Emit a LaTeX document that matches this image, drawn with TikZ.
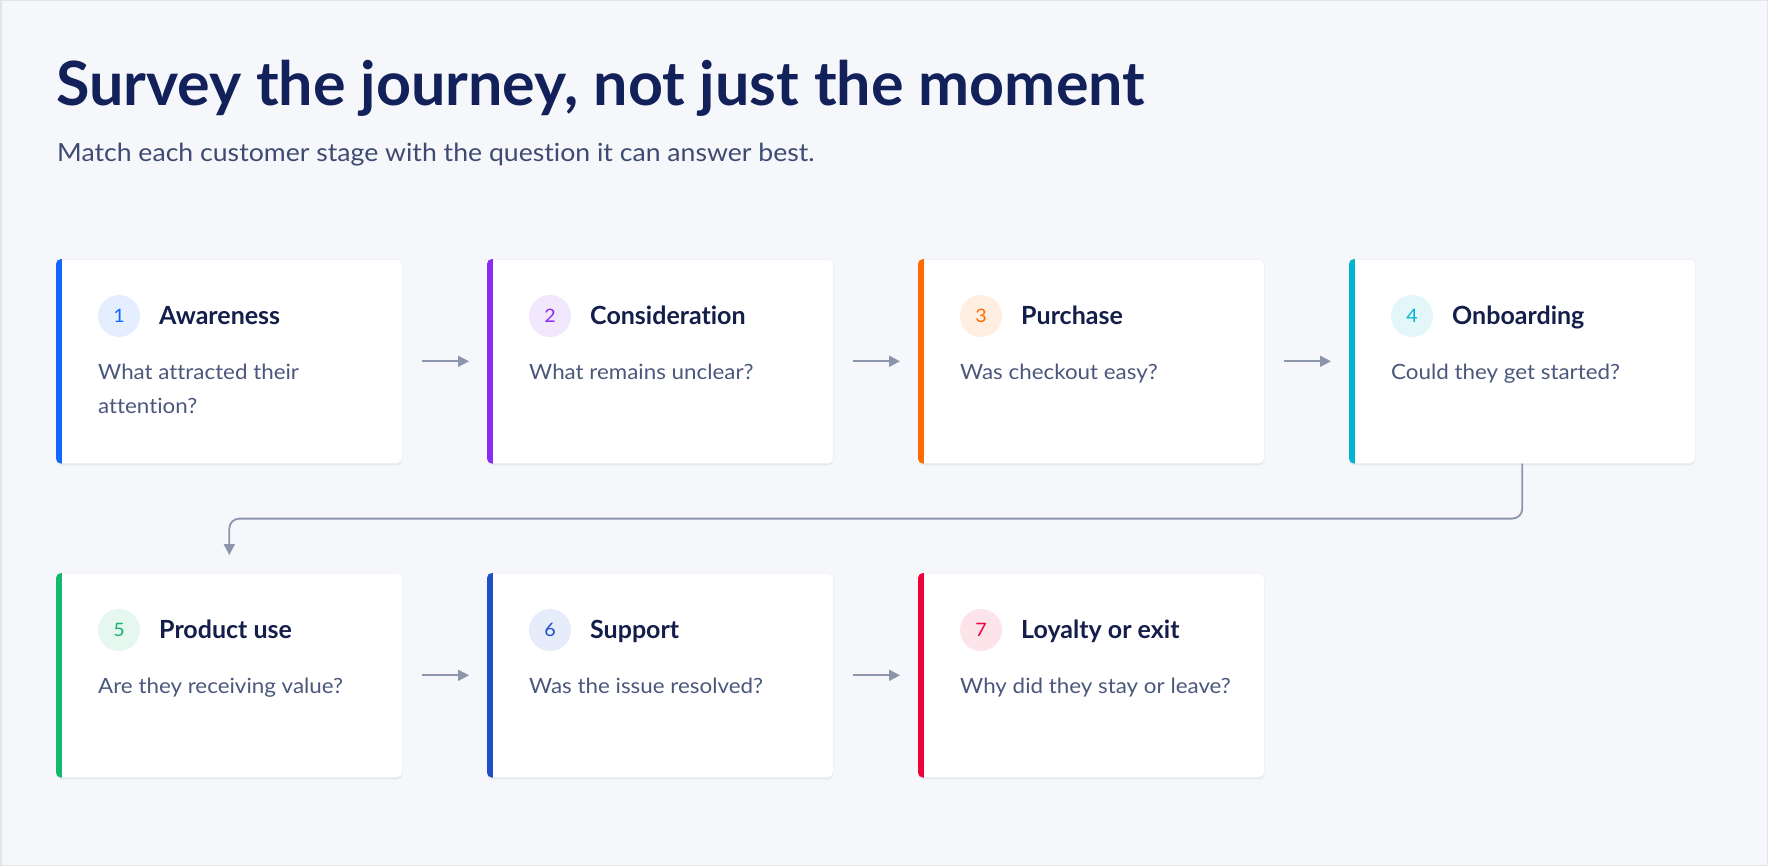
\documentclass[tikz,border=0pt]{standalone}
\usepackage{fontspec}
\setmainfont[Ligatures=NoCommon]{Lato}
\newfontfamily\bodyfont[FakeStretch=1.065,Ligatures=NoCommon]{Lato}
\usetikzlibrary{arrows.meta,calc,shadows}
\definecolor{bg}{HTML}{F6F7FA}
\definecolor{framec}{HTML}{E2E5EA}
\definecolor{navy}{HTML}{13215B}
\definecolor{subc}{HTML}{3D4A72}
\definecolor{ctitle}{HTML}{141E4A}
\definecolor{bodyc}{HTML}{4B587C}
\definecolor{cardline}{HTML}{EDEFF3}
\definecolor{arrc}{HTML}{8C96AB}
\definecolor{accA}{HTML}{1565FF}
\definecolor{accB}{HTML}{8B2CF5}
\definecolor{accC}{HTML}{FF6B00}
\definecolor{accD}{HTML}{00B5D1}
\definecolor{accE}{HTML}{14B86E}
\definecolor{accF}{HTML}{1F4FC8}
\definecolor{accG}{HTML}{F0003C}
\tikzset{
  cardbox/.style={draw=cardline, line width=0.6pt, fill=white, rounded corners=5pt,
    minimum width=346pt, minimum height=204pt, anchor=north west, inner sep=0pt,
    drop shadow={shadow xshift=0pt, shadow yshift=-2pt, opacity=0.06, fill=black}},
  numdot/.style={circle, minimum size=42pt, inner sep=0pt, font=\bodyfont\fontsize{18.5}{20}\selectfont},
  stitle/.style={anchor=base west, inner sep=0pt, text=ctitle, font=\fontsize{25}{30}\selectfont\bfseries},
  sbody/.style={anchor=base west, inner sep=0pt, text=bodyc, font=\bodyfont\fontsize{21}{34}\selectfont},
  arr/.style={draw=arrc, line width=1.8pt, -{Triangle[length=11pt,width=11pt]}},
}
\newcommand\stagecard[7]{%
  \node[cardbox] (#1) at (#2,#3) {};
  \begin{scope}
    \clip[rounded corners=5pt] (#1.north west) rectangle (#1.south east);
    \fill[#4] (#1.north west) rectangle ([xshift=6pt]#1.south west);
  \end{scope}
  \node[numdot, fill=#4!11!white, text=#4] (#1n) at ($(#1.north west)+(63,57)$) {#5};
  \node[stitle] (#1t) at ($(#1.north west)+(103,65)$) {#6};
  \node[sbody] (#1b) at ($(#1.north west)+(42,120)$) {\parbox[t]{290pt}{\raggedright\baselineskip=34pt #7}};
}
\begin{document}
\begin{tikzpicture}[x=1pt,y=-1pt]
\useasboundingbox (0,0) rectangle (1768,866);
\fill[bg] (0,0) rectangle (1768,866);
\draw[framec, line width=1.5pt] (0.75,0.75) rectangle (1767.25,865.25);

\node[anchor=base west, inner sep=0pt, text=navy, font=\fontsize{61}{70}\selectfont\bfseries] (title) at (56,106) {Survey the journey, not just the moment};
\node[anchor=base west, inner sep=0pt, text=subc, font=\bodyfont\fontsize{25}{30}\selectfont] (subtitle) at (57,162) {Match each customer stage with the question it can answer best.};

\stagecard{c1}{56}{259}{accA}{1}{Awareness}{What attracted their\\attention?}
\stagecard{c2}{487}{259}{accB}{2}{Consideration}{What remains unclear?}
\stagecard{c3}{918}{259}{accC}{3}{Purchase}{Was checkout easy?}
\stagecard{c4}{1349}{259}{accD}{4}{Onboarding}{Could they get started?}
\stagecard{c5}{56}{573}{accE}{5}{Product use}{Are they receiving value?}
\stagecard{c6}{487}{573}{accF}{6}{Support}{Was the issue resolved?}
\stagecard{c7}{918}{573}{accG}{7}{Loyalty or exit}{Why did they stay or leave?}

\draw[arr] ([xshift=19pt]c1.east) -- ([xshift=-18pt]c2.west);
\draw[arr] ([xshift=19pt]c2.east) -- ([xshift=-18pt]c3.west);
\draw[arr] ([xshift=19pt]c3.east) -- ([xshift=-18pt]c4.west);
\draw[arr] ([xshift=19pt]c5.east) -- ([xshift=-18pt]c6.west);
\draw[arr] ([xshift=19pt]c6.east) -- ([xshift=-18pt]c7.west);
\draw[arr, rounded corners=10pt] (c4.south) -- ++(0,55) -| ([yshift=18pt]c5.north);
\end{tikzpicture}
\end{document}
